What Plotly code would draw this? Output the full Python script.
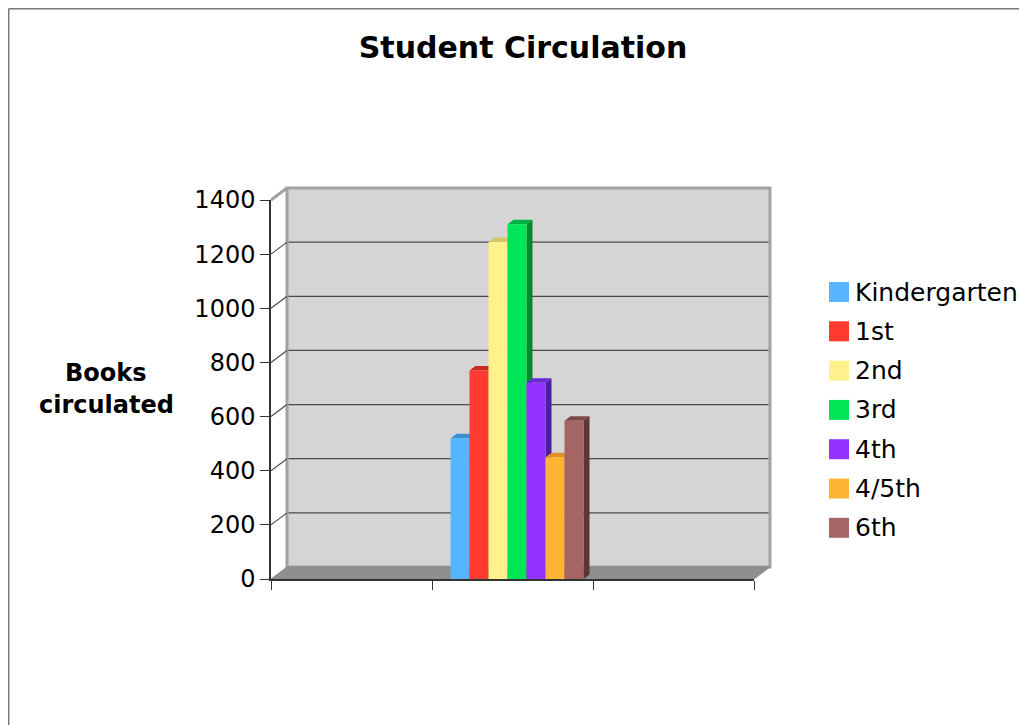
import plotly.graph_objects as go

# ---------------- data ----------------
grades = ["Kindergarten", "1st", "2nd", "3rd", "4th", "4/5th", "6th"]
books = [520, 770, 1245, 1310, 725, 450, 585]
y_ticks = [0, 200, 400, 600, 800, 1000, 1200, 1400]
x_ticks = [0, 1, 2, 3]

# ---------------- style ----------------
front_colors = ["#57b4ff", "#ff3b30", "#fff28c", "#00e556", "#9333ff", "#ffb333", "#a56565"]
top_colors = ["#3d8fd4", "#c82a20", "#d2c76c", "#00b040", "#6b2ad4", "#e0922a", "#7c4848"]
side_colors = ["#2c6aa0", "#9a2018", "#a89f50", "#008a30", "#4f1ea0", "#b07020", "#5a3636"]

FONT = "DejaVu Sans"
W, H = 1027, 725
OFF = 8                      # page body margin
# plot area in page pixels
PL, PR, PT, PB = 271, 754, 200, 579
L, T = PL - OFF, PT - OFF
R, B = W - (PR - OFF), H - (PB - OFF)
PW, PH = PR - PL, PB - PT
XR = [0, 3]
YR = [0, 1400]
DX, DY = 16, 12          # wall depth in pixels
BDX, BDY = 6, 4.5        # bar depth in pixels
GROUP_CENTER = 1.5
SHIFT = 0.028
BAR_W = 0.118


def pxx(px):  # page pixel -> paper x
    return (px - PL) / PW


def pxy(py):  # page pixel -> paper y
    return (PB - py) / PH


def vpy(v):  # value -> page pixel y
    return PB - (v - YR[0]) / (YR[1] - YR[0]) * PH


shapes = []
# back wall
shapes.append(dict(type="rect", xref="paper", yref="paper", layer="below",
                   x0=pxx(PL + DX), x1=pxx(PR + DX), y0=pxy(vpy(0) - DY), y1=pxy(vpy(YR[1]) - DY),
                   fillcolor="#d5d5d5", line=dict(color="#a2a2a2", width=3)))
# grid lines on back wall + diagonals on left wall
for v in y_ticks[1:-1]:
    yb = vpy(v) - DY
    shapes.append(dict(type="line", xref="paper", yref="paper", layer="below",
                       x0=pxx(PL + DX + 1.5), x1=pxx(PR + DX - 1.5), y0=pxy(yb), y1=pxy(yb),
                       line=dict(color="#4a4a4a", width=1.2)))
    shapes.append(dict(type="line", xref="paper", yref="paper", layer="below",
                       x0=pxx(PL), x1=pxx(PL + DX), y0=pxy(vpy(v)), y1=pxy(yb),
                       line=dict(color="#4a4a4a", width=1.2)))
# top diagonal of left wall
shapes.append(dict(type="line", xref="paper", yref="paper", layer="below",
                   x0=pxx(PL), x1=pxx(PL + DX), y0=pxy(vpy(YR[1])), y1=pxy(vpy(YR[1]) - DY),
                   line=dict(color="#a2a2a2", width=3)))
# floor
fy0, fy1 = pxy(vpy(0)), pxy(vpy(0) - DY)
floor_path = "M {a},{b} L {c},{b} L {d},{e} L {f},{e} Z".format(
    a=pxx(PL), b=fy0, c=pxx(PR), d=pxx(PR + DX), e=fy1, f=pxx(PL + DX))
shapes.append(dict(type="path", xref="paper", yref="paper", layer="below", path=floor_path,
                   fillcolor="#8f8f8f", line=dict(color="#8a8a8a", width=1)))
# page frame
shapes.append(dict(type="line", xref="paper", yref="paper", layer="above",
                   x0=pxx(8.7), x1=pxx(8.7), y0=pxy(8.7), y1=pxy(H + 20), line=dict(color="#777777", width=1.5)))
shapes.append(dict(type="line", xref="paper", yref="paper", layer="above",
                   x0=pxx(8.7), x1=pxx(W + 20), y0=pxy(8.7), y1=pxy(8.7), line=dict(color="#777777", width=1.5)))

# bar depth faces (data coordinates)
ddx = BDX / PW * (XR[1] - XR[0])
ddy = BDY / PH * (YR[1] - YR[0])
n = len(grades)
fig = go.Figure()
for i, (g, v) in enumerate(zip(grades, books)):
    off = (i - n / 2) * BAR_W + SHIFT
    xl = GROUP_CENTER + off
    xr = xl + BAR_W
    side = f"M {xr},0 L {xr},{v} L {xr + ddx},{v + ddy} L {xr + ddx},{ddy} Z"
    top = f"M {xl},{v} L {xr},{v} L {xr + ddx},{v + ddy} L {xl + ddx},{v + ddy} Z"
    shapes.append(dict(type="path", xref="x", yref="y", layer="below", path=side,
                       fillcolor=side_colors[i], line=dict(width=0)))
    shapes.append(dict(type="path", xref="x", yref="y", layer="below", path=top,
                       fillcolor=top_colors[i], line=dict(width=0)))
    fig.add_trace(go.Bar(x=[GROUP_CENTER], y=[v], width=[BAR_W], offset=[off], name=g,
                         marker=dict(color=front_colors[i], line=dict(width=0)),
                         showlegend=False, hoverinfo="name+y"))

# manual legend
annotations = []
LEG_Y0, LEG_STEP = 292, 39.3
for i, g in enumerate(grades):
    cy = LEG_Y0 + i * LEG_STEP
    shapes.append(dict(type="rect", xref="paper", yref="paper", layer="above",
                       x0=pxx(829), x1=pxx(849), y0=pxy(cy + 10), y1=pxy(cy - 10),
                       fillcolor=front_colors[i], line=dict(width=0)))
    annotations.append(dict(xref="paper", yref="paper", x=pxx(853), y=pxy(cy), text=g,
                            showarrow=False, xanchor="left", yanchor="middle",
                            font=dict(family=FONT, size=25, color="#000000")))

# y-axis title (two lines)
annotations.append(dict(xref="paper", yref="paper", x=pxx(106), y=pxy(373), text="Books",
                        showarrow=False, xanchor="center", yanchor="middle",
                        font=dict(family=FONT, size=24, color="#000000", weight="bold")))
annotations.append(dict(xref="paper", yref="paper", x=pxx(106), y=pxy(405), text="circulated",
                        showarrow=False, xanchor="center", yanchor="middle",
                        font=dict(family=FONT, size=24, color="#000000", weight="bold")))

fig.update_layout(
    width=W, height=H,
    margin=dict(l=L, r=R, t=T, b=B, pad=0),
    paper_bgcolor="#ffffff", plot_bgcolor="rgba(0,0,0,0)",
    barmode="overlay",
    title=dict(text="Student Circulation", xref="container", yref="container",
               x=(523 - OFF) / W, y=1 - (47 - OFF) / H, xanchor="center", yanchor="middle",
               font=dict(family=FONT, size=30, color="#000000", weight="bold")),
    xaxis=dict(range=XR, tickvals=x_ticks, ticktext=["" for _ in x_ticks], ticks="outside",
               ticklen=9, tickcolor="#333333", tickwidth=1, showgrid=False, zeroline=False,
               showline=True, linecolor="#333333", linewidth=1.5, fixedrange=True),
    yaxis=dict(range=YR, tickvals=y_ticks, ticks="outside", ticklen=9, tickcolor="#333333",
               tickwidth=1, showgrid=False, zeroline=False, showline=True, linecolor="#333333",
               linewidth=1.5, ticklabelstandoff=0,
               tickfont=dict(family=FONT, size=24, color="#000000"), fixedrange=True),
    shapes=shapes,
    annotations=annotations,
    showlegend=False,
)

fig.write_html("out.html")
